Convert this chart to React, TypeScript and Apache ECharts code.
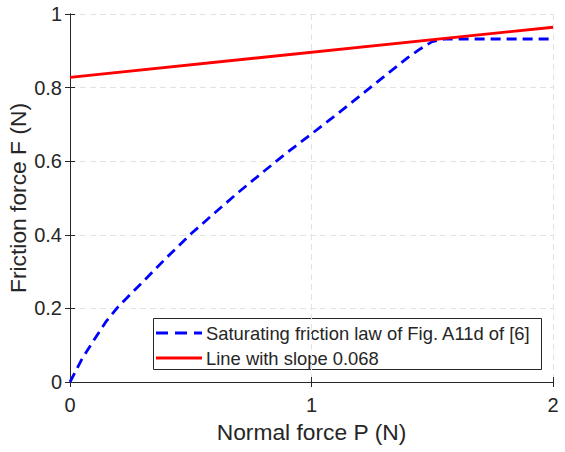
import React, { useEffect, useRef } from "react";
import * as echarts from "echarts";

// Normal force P (N) and saturating friction force F (N)
const normalForce = [0, 0.05, 0.1, 0.15, 0.2, 0.3, 0.4, 0.5, 0.6, 0.7, 0.8, 0.9, 1.0, 1.1, 1.2, 1.3, 1.4, 1.45, 1.5, 1.55, 2.0];
const frictionForce = [0, 0.063, 0.115, 0.165, 0.205, 0.271, 0.338, 0.402, 0.46, 0.517, 0.571, 0.624, 0.674, 0.725, 0.777, 0.83, 0.882, 0.905, 0.925, 0.932, 0.932];

// Straight line F = 0.828 + 0.068 P
const lineP = [0, 2];
const lineF = [0.828, 0.964];

const seriesNames = ["Saturating friction law of Fig. A11d of [6]", "Line with slope 0.068"];

const xTicks = [0, 1, 2];
const yTicks = [0, 0.2, 0.4, 0.6, 0.8, 1];

const FONT = "'Liberation Sans', Arial, Helvetica, sans-serif";
const TEXT = "#262626";
const BLUE = "#0000ff";
const RED = "#ff0000";

export default function App() {
  const ref = useRef<HTMLDivElement>(null);

  useEffect(() => {
    if (!ref.current) return;
    const chart = echarts.init(ref.current, undefined, { renderer: "svg" });

    const boxAxis = {
      axisLine: { show: true, lineStyle: { color: TEXT, width: 1 } },
      axisTick: { show: true, inside: true, length: 5, lineStyle: { color: TEXT } },
      axisLabel: { show: false },
      splitLine: { show: false },
    };

    // Legend box in the lower right of the plot area
    const legendBox = { x: 153, y: 318, w: 388, h: 51 };
    const rowY = [333, 358];
    const legend = {
      type: "group",
      z: 100,
      children: [
        {
          type: "rect",
          shape: { x: legendBox.x + 0.5, y: legendBox.y + 0.5, width: legendBox.w, height: legendBox.h },
          style: { fill: "#ffffff", stroke: TEXT, lineWidth: 1 },
        },
        {
          type: "line",
          shape: { x1: 156, y1: rowY[0], x2: 202, y2: rowY[0] },
          style: { stroke: BLUE, lineWidth: 2.8, lineDash: [12, 7] },
        },
        {
          type: "line",
          shape: { x1: 156, y1: rowY[1], x2: 202, y2: rowY[1] },
          style: { stroke: RED, lineWidth: 2.8 },
        },
        ...seriesNames.map((name, i) => ({
          type: "text",
          x: 206,
          y: rowY[i],
          style: {
            text: name,
            fontFamily: FONT,
            fontSize: 18.4,
            fill: TEXT,
            verticalAlign: "middle",
            align: "left",
          },
        })),
      ],
    };

    chart.setOption({
      animation: false,
      backgroundColor: "#ffffff",
      textStyle: { fontFamily: FONT },
      grid: { left: 70, right: 12, top: 14, bottom: 70, containLabel: false, outerBoundsMode: "none" },
      xAxis: [
        {
          type: "value",
          min: xTicks[0],
          max: xTicks[xTicks.length - 1],
          interval: 1,
          name: "Normal force P (N)",
          nameLocation: "middle",
          nameGap: 38,
          nameMoveOverlap: false,
          nameTextStyle: { fontFamily: FONT, fontSize: 22.8, color: TEXT },
          axisLine: { show: true, lineStyle: { color: TEXT, width: 1 } },
          axisTick: { show: true, inside: true, length: 5, lineStyle: { color: TEXT } },
          axisLabel: { fontFamily: FONT, fontSize: 20, color: TEXT, margin: 13 },
          splitLine: { show: true, lineStyle: { color: "#e3e3e3", type: [6, 4], width: 1 } },
        },
        { type: "value", position: "top", min: 0, max: 2, interval: 1, ...boxAxis },
      ],
      yAxis: [
        {
          type: "value",
          min: yTicks[0],
          max: yTicks[yTicks.length - 1],
          interval: 0.2,
          name: "Friction force F (N)",
          nameLocation: "middle",
          nameGap: 41,
          nameMoveOverlap: false,
          nameTextStyle: { fontFamily: FONT, fontSize: 22.8, color: TEXT },
          axisLine: { show: true, lineStyle: { color: TEXT, width: 1 } },
          axisTick: { show: true, inside: true, length: 5, lineStyle: { color: TEXT } },
          axisLabel: { fontFamily: FONT, fontSize: 20, color: TEXT, margin: 8 },
          splitLine: { show: true, lineStyle: { color: "#e3e3e3", type: [6, 4], width: 1 } },
        },
        { type: "value", position: "right", min: 0, max: 1, interval: 0.2, ...boxAxis },
      ],
      series: [
        {
          name: seriesNames[0],
          type: "line",
          data: normalForce.map((p, i) => [p, frictionForce[i]]),
          showSymbol: false,
          symbol: "none",
          lineStyle: { color: BLUE, width: 2.8, type: [10, 6] },
          itemStyle: { color: BLUE },
          z: 3,
        },
        {
          name: seriesNames[1],
          type: "line",
          data: lineP.map((p, i) => [p, lineF[i]]),
          showSymbol: false,
          symbol: "none",
          lineStyle: { color: RED, width: 2.8 },
          itemStyle: { color: RED },
          z: 4,
        },
      ],
      graphic: [legend],
    });

    return () => chart.dispose();
  }, []);

  return <div ref={ref} style={{ width: 565, height: 452, position: "absolute", left: 0, top: 0 }} />;
}
